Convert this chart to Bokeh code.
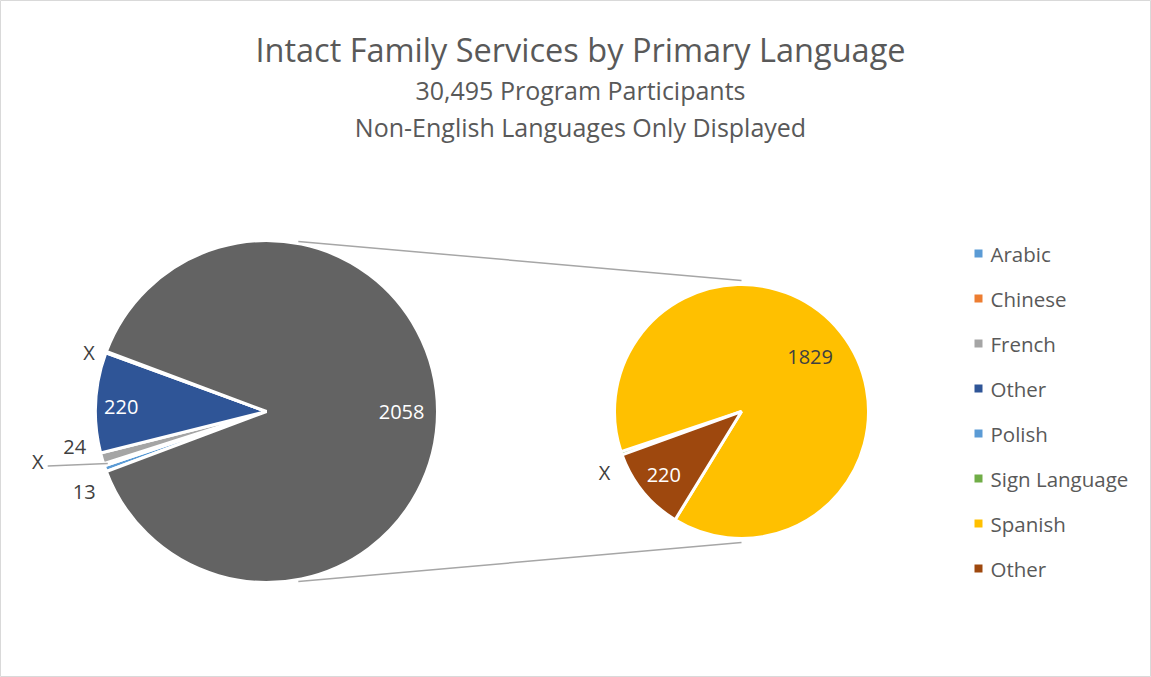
import math
from bokeh.plotting import figure
from bokeh.models import Range1d
from bokeh.core.properties import value
from bokeh.embed import file_html
from bokeh.resources import INLINE

# ---------------- data ----------------
title_lines = ["Intact Family Services by Primary Language",
               "30,495 Program Participants",
               "Non-English Languages Only Displayed"]

main_categories = ["Arabic", "Chinese", "French", "Other", "Polish"]
main_values = [13, 5, 24, 220, 3]          # "X" = suppressed small counts (estimated)
main_labels = ["13", "X", "24", "220", "X"]

second_categories = ["Sign Language", "Spanish", "Other"]
second_values = [9, 1829, 220]
second_labels = ["X", "1829", "220"]

legend_categories = ["Arabic", "Chinese", "French", "Other", "Polish",
                     "Sign Language", "Spanish", "Other"]
legend_colors = ["#5B9BD5", "#ED7D31", "#A5A5A5", "#2F5597", "#5B9BD5",
                 "#70AD47", "#FFC000", "#9E480E"]

main_colors = legend_colors[:5]
second_colors = legend_colors[5:]
combined_color = "#636363"

# ---------------- layout ----------------
W, H = 1151, 677
def Y(ref_y):
    return H - ref_y

FONT = value("Open Sans")
DARK = "#404040"
TITLE_C = "#595959"

p = figure(width=W, height=H, output_backend="svg", toolbar_location=None,
           x_range=Range1d(0, W), y_range=Range1d(0, H),
           min_border=0, background_fill_color="white", border_fill_color="white")
p.axis.visible = False
p.grid.visible = False
p.outline_line_color = "#D9D9D9"

# main pie
mcx, mcy, mr = 266, Y(411), 171
combined_value = sum(second_values)
main_total = sum(main_values) + combined_value
deg_main = 360.0 / main_total
half = combined_value * deg_main / 2.0

starts, ends, cols = [], [], []
mids = []
cursor = 360.0 - half
for v, c in zip(main_values, main_colors):
    s = cursor - v * deg_main
    starts.append(s); ends.append(cursor); cols.append(c)
    mids.append((s + cursor) / 2)
    cursor = s
starts.append(-half); ends.append(half); cols.append(combined_color)

p.wedge(x=mcx, y=mcy, radius=mr,
        start_angle=[math.radians(a) for a in starts],
        end_angle=[math.radians(a) for a in ends],
        fill_color=cols, line_color="white", line_width=3)

# second pie
scx, scy, sr = 741, Y(411), 127
deg_sec = 360.0 / combined_value
s_starts, s_ends, s_mids = [], [], []
cursor = 200.0
for v in second_values:
    s = cursor - v * deg_sec
    s_starts.append(s); s_ends.append(cursor)
    s_mids.append((s + cursor) / 2)
    cursor = s
p.wedge(x=scx, y=scy, radius=sr,
        start_angle=[math.radians(a) for a in s_starts],
        end_angle=[math.radians(a) for a in s_ends],
        fill_color=second_colors, line_color="white", line_width=3)

# connector lines
for sign in (1, -1):
    a1 = math.radians(79.4 * sign)
    a2 = math.radians(90 * sign)
    p.line([mcx + (mr + 2) * math.cos(a1), scx + (sr + 4) * math.cos(a2)],
           [mcy + (mr + 2) * math.sin(a1), scy + (sr + 4) * math.sin(a2)],
           line_color="#A6A6A6", line_width=1.5)

# data labels: (angle offset deg, radius factor, color)
main_place = [(4.3, 1.165, DARK), (-5.7, 1.37, DARK), (-5.5, 1.14, DARK),
              (1.4, 0.85, "white"), (1.8, 1.094, DARK)]
lx, ly, lt, lc = [], [], [], []
for m, lab, (off, f, c) in zip(mids, main_labels, main_place):
    a = math.radians(m + off)
    lx.append(mcx + f * mr * math.cos(a)); ly.append(mcy + f * mr * math.sin(a))
    lt.append(lab); lc.append(c)
lx.append(mcx + 0.79 * mr); ly.append(mcy); lt.append(str(combined_value)); lc.append("white")

sec_place = [(4.8, 1.18, DARK), (0.0, 0.69, DARK), (0.0, 0.79, "white")]
for m, lab, (off, f, c) in zip(s_mids, second_labels, sec_place):
    a = math.radians(m + off)
    lx.append(scx + f * sr * math.cos(a)); ly.append(scy + f * sr * math.sin(a))
    lt.append(lab); lc.append(c)

p.text(x=lx, y=ly, text=lt, text_color=lc, text_font=FONT,
       text_font_size=value("20px"), text_align="center", text_baseline="middle")

# leader line for Chinese label
ci = 1
a_lab = math.radians(mids[ci] + main_place[ci][0])
lab_x = mcx + main_place[ci][1] * mr * math.cos(a_lab)
lab_y = mcy + main_place[ci][1] * mr * math.sin(a_lab)
a_sl = math.radians(mids[ci])
p.line([lab_x + 10, mcx + (mr - 4) * math.cos(a_sl)],
       [lab_y - 4, mcy + (mr - 4) * math.sin(a_sl)],
       line_color="#A6A6A6", line_width=1.5)

# titles
p.text(x=[580], y=[Y(49)], text=[title_lines[0]], text_color=TITLE_C, text_font=FONT,
       text_font_size=value("32.5px"), text_align="center", text_baseline="middle")
p.text(x=[580, 580], y=[Y(89), Y(126)], text=title_lines[1:], text_color=TITLE_C,
       text_font=FONT, text_font_size=value("25px"), text_align="center",
       text_baseline="middle")

# legend
leg_y = [Y(253 + 45 * i) for i in range(len(legend_categories))]
p.rect(x=[978] * len(leg_y), y=leg_y, width=8, height=8,
       fill_color=legend_colors, line_color=None)
p.text(x=[990] * len(leg_y), y=leg_y, text=legend_categories, text_color=TITLE_C,
       text_font=FONT, text_font_size=value("20.5px"), text_align="left",
       text_baseline="middle")

open("out.html", "w").write(file_html(p, INLINE))
